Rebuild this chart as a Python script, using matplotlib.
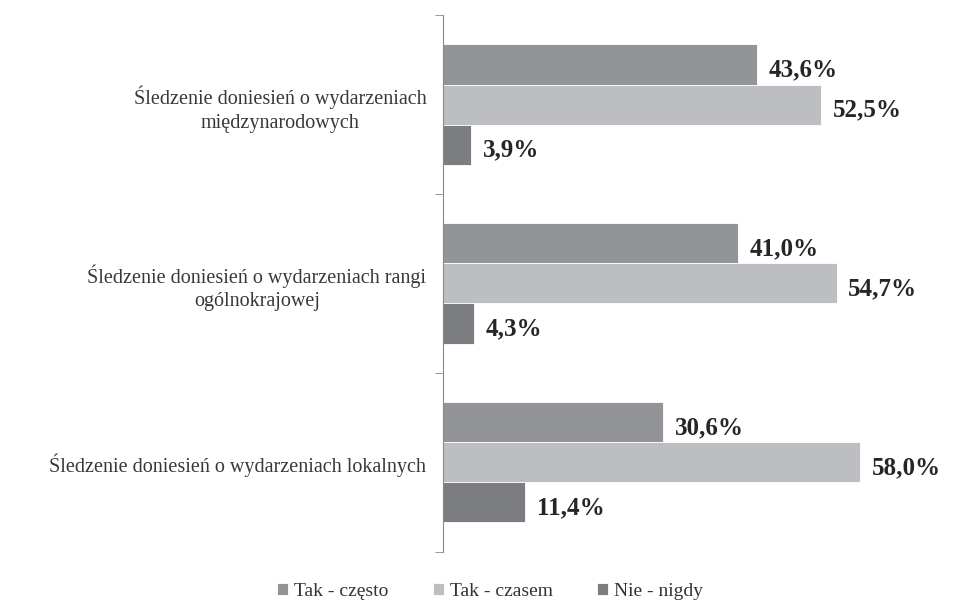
import numpy as np
import matplotlib
matplotlib.use("Agg")
import matplotlib.pyplot as plt

plt.rcParams['font.family'] = ['Liberation Serif', 'DejaVu Serif']

categories = ["Śledzenie doniesień o wydarzeniach\nmiędzynarodowych",
              "Śledzenie doniesień o wydarzeniach rangi\nogólnokrajowej",
              "Śledzenie doniesień o wydarzeniach lokalnych"]
series_names = ["Tak - często", "Tak - czasem", "Nie - nigdy"]
czesto = [43.6, 41.0, 30.6]
czasem = [52.5, 54.7, 58.0]
nigdy = [3.9, 4.3, 11.4]
colors = ["#939497", "#bdbec1", "#7c7d81"]

fig = plt.figure(figsize=(9.61, 6.05), dpi=100)
# 7.2 px per percent, axis at x=443
ax = fig.add_axes([0.461, 0.088, 0.4943, 0.887])

y = np.arange(len(categories))
h = 0.224
for i, (vals, name, c) in enumerate(zip([czesto, czasem, nigdy], series_names, colors)):
    pos = y + (i - 1) * h
    ax.barh(pos, vals, height=h, color=c, label=name, edgecolor='white', linewidth=0.6)
    for p, v in zip(pos, vals):
        ax.text(v + 1.6, p + 0.03, ("%.1f%%" % v).replace('.', ','), va='center', ha='left',
                fontsize=18, fontweight='bold', color='#262626')

ax.set_ylim(2.5, -0.5)
ax.set_xlim(0, 66)
ax.set_yticks(y)
ax.set_yticklabels(categories, fontsize=14.5, color='#383838', multialignment='center',
                   linespacing=1.3)
ax.tick_params(axis='y', which='major', length=0, pad=12)
ax.set_yticks([-0.5, 0.5, 1.5, 2.5], minor=True)
ax.tick_params(axis='y', which='minor', length=6, color='#888888')
ax.set_xticks([])
for s in ['top', 'right', 'bottom']:
    ax.spines[s].set_visible(False)
ax.spines['left'].set_color('#888888')

fig.legend(loc='center', bbox_to_anchor=(0.51, 0.022), ncol=3, frameon=False,
           fontsize=14, handlelength=0.55, handleheight=0.55, handletextpad=0.3,
           columnspacing=2.3, labelcolor='#333333')

fig.savefig("out.png", dpi=100)
